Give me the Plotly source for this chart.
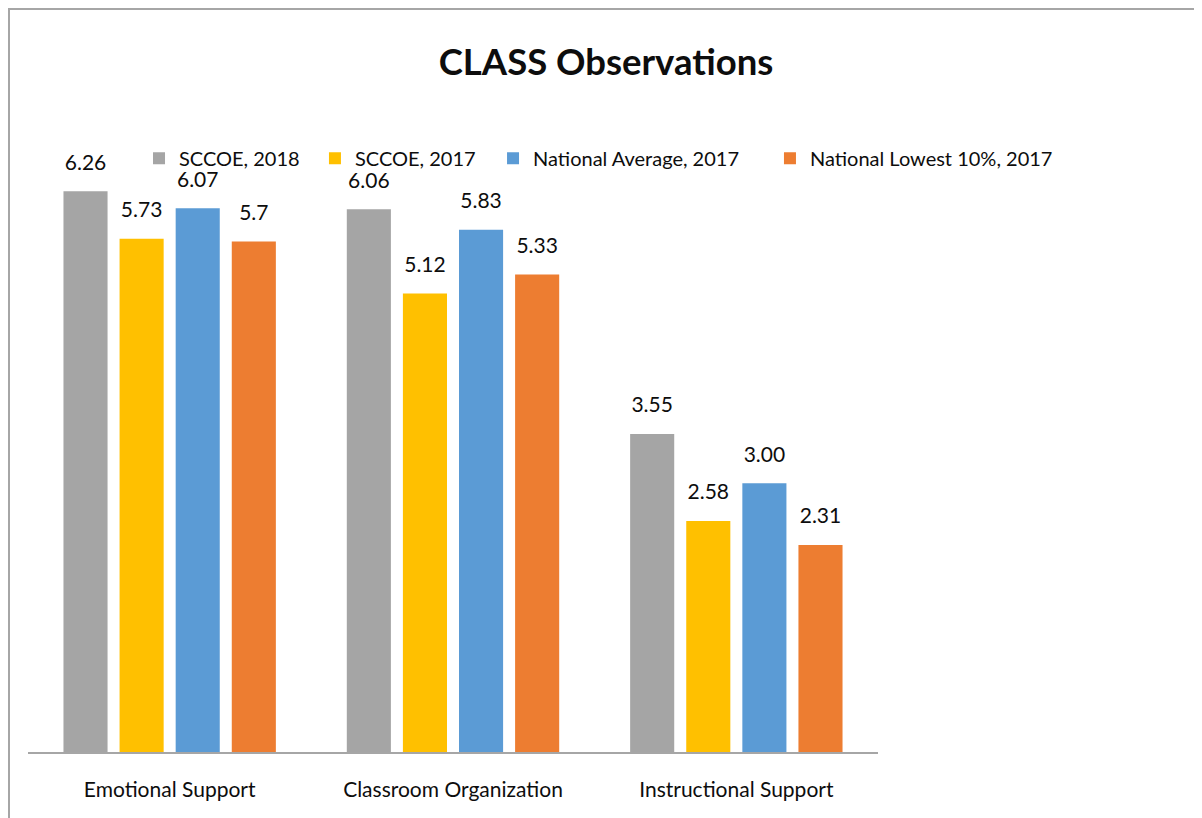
import plotly.graph_objects as go

categories = ["Emotional Support", "Classroom Organization", "Instructional Support"]
series_names = ["SCCOE, 2018", "SCCOE, 2017", "National Average, 2017", "National Lowest 10%, 2017"]
sccoe_2018 = [6.26, 6.06, 3.55]
sccoe_2017 = [5.73, 5.12, 2.58]
national_avg_2017 = [6.07, 5.83, 3.00]
national_low_2017 = [5.70, 5.33, 2.31]
labels_2018 = ["6.26", "6.06", "3.55"]
labels_2017 = ["5.73", "5.12", "2.58"]
labels_avg = ["6.07", "5.83", "3.00"]
labels_low = ["5.7", "5.33", "2.31"]
colors = ["#A5A5A5", "#FFC000", "#5B9BD5", "#ED7D31"]

FONT = "Lato, sans-serif"
TXT = "#0D0D0D"

legend_ids = ["legend", "legend2", "legend3", "legend4"]
legend_x = [0.1306, 0.3376, 0.5471, 0.8729]

fig = go.Figure()
for name, vals, labs, col, lid in zip(series_names,
                                      [sccoe_2018, sccoe_2017, national_avg_2017, national_low_2017],
                                      [labels_2018, labels_2017, labels_avg, labels_low],
                                      colors, legend_ids):
    fig.add_trace(go.Bar(
        x=categories, y=vals, name=name, marker_color=col, marker_line_width=0,
        text=["<span style='font-size:21px'>" + l + "</span><br> " for l in labs],
        textposition="outside", cliponaxis=False, constraintext="none",
        textfont=dict(family=FONT, size=12, color=TXT),
        legend=lid, showlegend=True,
    ))

legend_style = dict(orientation="h", xanchor="left", y=0.947, yanchor="middle",
                    font=dict(family=FONT, size=20, color=TXT), bgcolor="rgba(0,0,0,0)")
legend_layout = {lid: dict(x=lx, **legend_style) for lid, lx in zip(legend_ids, legend_x)}

fig.update_layout(
    width=1202, height=818,
    showlegend=True,
    margin=dict(l=20, r=332, t=117, b=74, autoexpand=False),
    paper_bgcolor="white", plot_bgcolor="white",
    barmode="group", bargap=0.208, bargroupgap=0.214,
    title=dict(text="<b>CLASS Observations</b>", xref="container", x=0.4975, xanchor="center",
               yref="container", y=0.934, yanchor="middle",
               font=dict(family=FONT, size=36.5, color=TXT)),
    xaxis=dict(showline=True, linecolor="#A6A6A6", linewidth=2, ticks="", showgrid=False,
               tickfont=dict(family=FONT, size=21, color=TXT), ticklabelstandoff=18),
    yaxis=dict(range=[0, 7.0], visible=False, showgrid=False),
    shapes=[dict(type="rect", xref="paper", yref="paper",
                 x0=(1 - 20) / 850, x1=(1220 - 20) / 850,
                 y0=(744 - 840) / 627, y1=(744 - 1) / 627,
                 line=dict(color="#A6A6A6", width=2), fillcolor="rgba(0,0,0,0)", layer="below")],
    **legend_layout,
)

fig.write_html("out.html")
